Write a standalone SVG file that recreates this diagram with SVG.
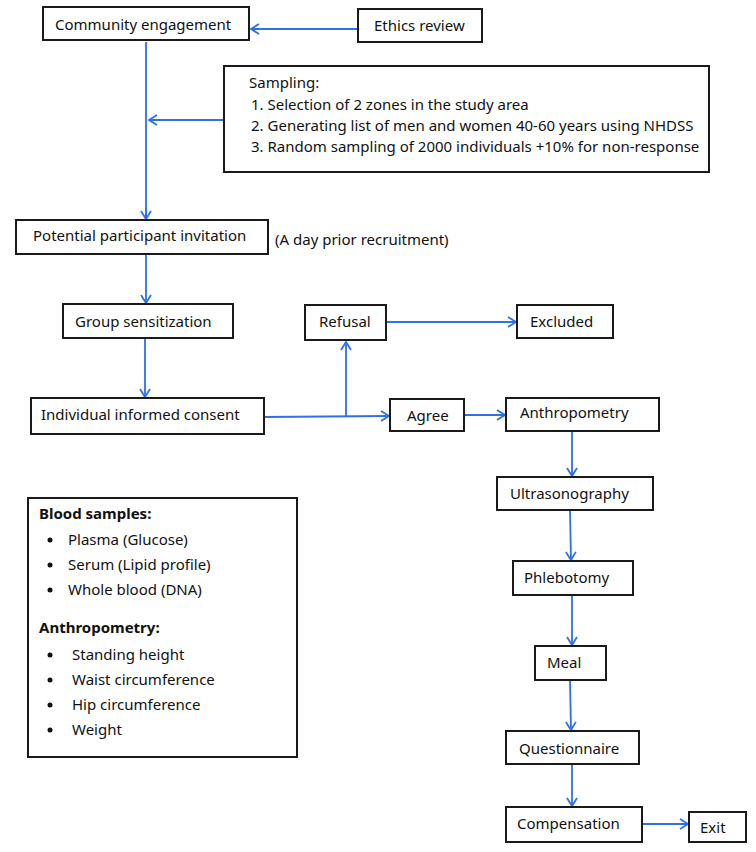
<svg xmlns="http://www.w3.org/2000/svg" width="756" height="852" viewBox="0 0 756 852">
<style>
.box{fill:#fff;stroke:#1a1a1a;stroke-width:2}
text{font-family:"Noto Sans","Open Sans",sans-serif;font-size:15px;fill:#111}
.b{font-weight:bold}
.c{fill:none;stroke:#2f6fe8;stroke-width:1.8}
</style>
<defs>
<marker id="ah" markerWidth="12" markerHeight="12" refX="9" refY="6" orient="auto" markerUnits="userSpaceOnUse">
<path d="M1,1 L9,6 L1,11" fill="none" stroke="#2f6fe8" stroke-width="1.8"/>
</marker>
</defs>
<rect width="756" height="852" fill="#fff"/>
<g id="connectors">
<path class="c" d="M358,29 L251,29" marker-end="url(#ah)"/>
<path class="c" d="M146,42 L146,218"/>
<path class="c" d="M146,208 L146,219" marker-end="url(#ah)"/>
<path class="c" d="M224,120 L149,120" marker-end="url(#ah)"/>
<path class="c" d="M146,254 L146,303" marker-end="url(#ah)"/>
<path class="c" d="M145,338 L145,397" marker-end="url(#ah)"/>
<path class="c" d="M264,417 L389,416" marker-end="url(#ah)"/>
<path class="c" d="M346,416 L346,342" marker-end="url(#ah)"/>
<path class="c" d="M386,322 L516,322" marker-end="url(#ah)"/>
<path class="c" d="M464,415 L505,415" marker-end="url(#ah)"/>
<path class="c" d="M572,431 L572,476" marker-end="url(#ah)"/>
<path class="c" d="M570,510 L571,560" marker-end="url(#ah)"/>
<path class="c" d="M572,595 L572,645" marker-end="url(#ah)"/>
<path class="c" d="M570,680 L571,730" marker-end="url(#ah)"/>
<path class="c" d="M572,764 L572,806" marker-end="url(#ah)"/>
<path class="c" d="M642,824 L688,824" marker-end="url(#ah)"/>
</g>
<g id="community"><rect class="box" x="43" y="7" width="206" height="33"/><text x="55" y="30">Community engagement</text></g>
<g id="ethics"><rect class="box" x="358" y="9" width="124" height="33"/><text x="374" y="31">Ethics review</text></g>
<g id="sampling"><rect class="box" x="224" y="66" width="485" height="106"/>
<text x="249" y="88">Sampling:</text>
<text x="251" y="110">1. Selection of 2 zones in the study area</text>
<text x="251" y="131">2. Generating list of men and women 40-60 years using NHDSS</text>
<text x="251" y="152">3. Random sampling of 2000 individuals +10% for non-response</text></g>
<g id="invitation"><rect class="box" x="16" y="220" width="252" height="34"/><text x="33" y="241">Potential participant invitation</text></g>
<text x="275" y="245">(A day prior recruitment)</text>
<g id="group"><rect class="box" x="63" y="304" width="170" height="34"/><text x="75" y="327">Group sensitization</text></g>
<g id="consent"><rect class="box" x="31" y="398" width="233" height="36"/><text x="41" y="420">Individual informed consent</text></g>
<g id="refusal"><rect class="box" x="305" y="305" width="81" height="35"/><text x="319" y="327">Refusal</text></g>
<g id="excluded"><rect class="box" x="517" y="305" width="96" height="33"/><text x="530" y="327">Excluded</text></g>
<g id="agree"><rect class="box" x="390" y="399" width="74" height="32"/><text x="407" y="421">Agree</text></g>
<g id="anthropometry"><rect class="box" x="506" y="398" width="153" height="33"/><text x="520" y="418">Anthropometry</text></g>
<g id="ultrasonography"><rect class="box" x="497" y="477" width="156" height="33"/><text x="510" y="499">Ultrasonography</text></g>
<g id="phlebotomy"><rect class="box" x="513" y="561" width="120" height="34"/><text x="524" y="583">Phlebotomy</text></g>
<g id="meal"><rect class="box" x="535" y="646" width="71" height="34"/><text x="547" y="668">Meal</text></g>
<g id="questionnaire"><rect class="box" x="506" y="731" width="133" height="33"/><text x="519" y="754">Questionnaire</text></g>
<g id="compensation"><rect class="box" x="506" y="807" width="136" height="35"/><text x="517" y="829">Compensation</text></g>
<g id="exit"><rect class="box" x="689" y="812" width="57" height="30"/><text x="700" y="833">Exit</text></g>
<g id="legend"><rect class="box" x="28" y="498" width="269" height="259"/>
<text class="b" x="39" y="519">Blood samples:</text>
<circle cx="50" cy="540" r="2.5" fill="#111"/><text x="68" y="545">Plasma (Glucose)</text>
<circle cx="50" cy="565" r="2.5" fill="#111"/><text x="68" y="570">Serum (Lipid profile)</text>
<circle cx="50" cy="590" r="2.5" fill="#111"/><text x="68" y="595">Whole blood (DNA)</text>
<text class="b" x="39" y="633">Anthropometry:</text>
<circle cx="50" cy="655" r="2.5" fill="#111"/><text x="72" y="660">Standing height</text>
<circle cx="50" cy="680" r="2.5" fill="#111"/><text x="72" y="685">Waist circumference</text>
<circle cx="50" cy="705" r="2.5" fill="#111"/><text x="72" y="710">Hip circumference</text>
<circle cx="50" cy="730" r="2.5" fill="#111"/><text x="72" y="735">Weight</text></g>
</svg>
